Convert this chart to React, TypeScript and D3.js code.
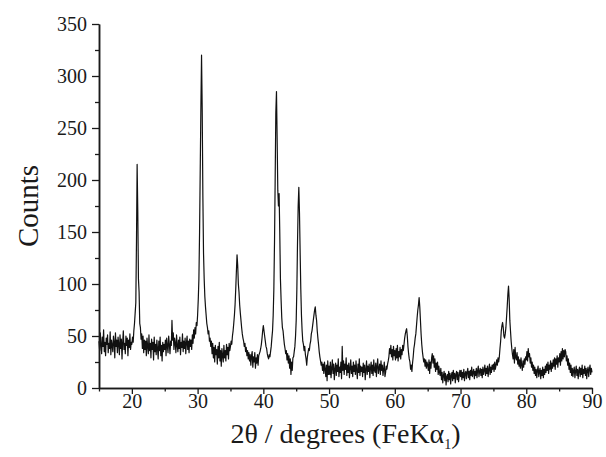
import React, { useEffect, useRef } from 'react'
import * as d3 from 'd3'

// diffractometer step, degrees 2θ
const STEP = 0.1

// counts, one array per 5 degrees (50 steps each)
const scan15 = [
  45, 36, 53, 41, 33, 49, 40, 56, 35, 44,
  31, 48, 42, 51, 34, 43, 38, 54, 32, 46,
  41, 35, 50, 44, 29, 53, 40, 46, 34, 49,
  42, 32, 51, 38, 47, 28, 44, 55, 37, 43,
  33, 50, 41, 48, 31, 46, 39, 52, 37, 44,
]
const scan20 = [
  42, 49, 44, 55, 62, 72, 82, 140, 215, 170,
  105, 92, 62, 58, 47, 52, 38, 50, 34, 46,
  37, 45, 31, 48, 40, 33, 51, 36, 43, 29,
  47, 37, 44, 27, 49, 35, 42, 32, 46, 38,
  28, 45, 36, 49, 31, 41, 26, 44, 35, 42,
]
const scan25 = [
  37, 46, 31, 48, 40, 34, 50, 42, 33, 45,
  41, 65, 46, 53, 37, 48, 43, 34, 51, 41,
  35, 46, 38, 49, 32, 44, 39, 52, 35, 45,
  38, 48, 33, 43, 50, 37, 45, 34, 47, 40,
  46, 37, 51, 43, 56, 48, 58, 52, 63, 60,
]
const scan30 = [
  70, 85, 105, 150, 210, 270, 320, 268, 185, 130,
  105, 88, 78, 70, 62, 58, 52, 55, 45, 48,
  40, 45, 33, 43, 29, 39, 25, 41, 32, 37,
  23, 40, 29, 44, 26, 36, 21, 38, 31, 25,
  41, 29, 36, 26, 42, 32, 39, 28, 43, 36,
]
const scan35 = [
  40, 45, 42, 50, 55, 62, 70, 80, 95, 112,
  128, 118, 100, 92, 80, 72, 65, 58, 52, 48,
  45, 40, 43, 35, 39, 31, 36, 28, 34, 26,
  32, 22, 31, 35, 20, 30, 25, 34, 19, 29,
  24, 32, 22, 31, 33, 35, 38, 42, 48, 55,
]
const scan40 = [
  60, 55, 50, 45, 40, 38, 33, 30, 28, 32,
  30, 35, 40, 48, 55, 70, 95, 140, 200, 265,
  285, 240, 190, 175, 187, 150, 105, 85, 68, 58,
  55, 48, 42, 38, 33, 36, 27, 33, 24, 31,
  19, 28, 13, 25, 17, 29, 30, 35, 40, 50,
]
const scan45 = [
  65, 95, 140, 175, 193, 168, 130, 95, 70, 55,
  45, 42, 36, 40, 32, 28, 22, 30, 34, 38,
  36, 42, 45, 52, 55, 60, 65, 70, 75, 78,
  70, 65, 55, 48, 42, 35, 30, 26, 22, 25,
  17, 23, 14, 25, 18, 11, 22, 7, 26, 13,
]
const scan50 = [
  21, 13, 25, 10, 19, 27, 14, 23, 8, 18,
  24, 12, 22, 16, 28, 11, 20, 15, 25, 9,
  40, 17, 26, 13, 23, 18, 29, 12, 22, 15,
  24, 10, 19, 27, 14, 21, 11, 25, 16, 22,
  13, 26, 17, 9, 23, 15, 28, 12, 21, 16,
]
const scan55 = [
  20, 11, 24, 15, 22, 8, 18, 26, 13, 21,
  16, 23, 10, 19, 25, 14, 22, 12, 27, 17,
  15, 24, 11, 21, 28, 14, 19, 23, 13, 26,
  17, 22, 12, 18, 25, 11, 15, 21, 18, 23,
  26, 30, 38, 33, 41, 30, 37, 27, 40, 31,
]
const scan60 = [
  36, 27, 38, 29, 41, 26, 35, 30, 39, 28,
  37, 32, 41, 36, 42, 48, 52, 55, 57, 50,
  40, 33, 28, 25, 18, 22, 16, 24, 30, 38,
  42, 48, 52, 60, 68, 75, 80, 87, 78, 65,
  52, 42, 35, 30, 25, 28, 21, 27, 19, 25,
]
const scan65 = [
  22, 17, 27, 14, 25, 19, 29, 33, 24, 31,
  20, 28, 16, 24, 18, 25, 13, 21, 15, 12,
  19, 8, 15, 5, 12, 16, 7, 14, 3, 11,
  13, 6, 16, 8, 14, 4, 12, 15, 7, 17,
  9, 14, 5, 13, 16, 8, 15, 6, 12, 17,
]
const scan70 = [
  11, 17, 8, 15, 10, 18, 7, 14, 16, 9,
  15, 19, 10, 16, 8, 17, 12, 20, 11, 15,
  18, 9, 16, 12, 19, 10, 17, 21, 11, 16,
  19, 12, 18, 10, 20, 13, 17, 22, 12, 19,
  14, 21, 11, 18, 23, 13, 20, 15, 22, 18,
]
const scan75 = [
  23, 16, 25, 18, 22, 27, 22, 29, 25, 30,
  38, 45, 55, 60, 63, 58, 50, 48, 52, 58,
  68, 78, 90, 98, 85, 65, 55, 45, 38, 32,
  28, 37, 24, 39, 29, 27, 34, 23, 30, 21,
  27, 19, 29, 22, 17, 26, 20, 28, 23, 30,
]
const scan80 = [
  27, 35, 26, 38, 30, 33, 24, 29, 20, 25,
  17, 22, 14, 20, 12, 18, 10, 17, 21, 11,
  16, 19, 9, 17, 12, 20, 10, 18, 13, 21,
  15, 23, 17, 25, 14, 22, 18, 26, 16, 24,
  19, 27, 21, 29, 18, 28, 23, 31, 20, 29,
]
const scan85 = [
  25, 33, 22, 35, 26, 38, 28, 36, 30, 37,
  35, 26, 31, 22, 28, 18, 24, 15, 22, 12,
  19, 11, 17, 20, 10, 16, 21, 12, 18, 9,
  17, 20, 11, 19, 13, 22, 10, 18, 14, 21,
  12, 19, 9, 17, 20, 11, 18, 22, 13, 19,
]
const scan90 = [15]

const segments: [number, number[]][] = [
  [15, scan15], [20, scan20], [25, scan25], [30, scan30], [35, scan35],
  [40, scan40], [45, scan45], [50, scan50], [55, scan55], [60, scan60],
  [65, scan65], [70, scan70], [75, scan75], [80, scan80], [85, scan85],
  [90, scan90],
]

const xTicks = [20, 30, 40, 50, 60, 70, 80, 90]
const xMinor = [15, 25, 35, 45, 55, 65, 75, 85]
const yTicks = [0, 50, 100, 150, 200, 250, 300, 350]
const yMinor = [25, 75, 125, 175, 225, 275, 325]

const FONT = '"Liberation Serif", "Times New Roman", serif'

const App = () => {
  const chartRef = useRef<SVGSVGElement>(null)

  useEffect(() => {
    const W = 606
    const H = 457
    const margin = { top: 24, right: 14, bottom: 69, left: 99 }
    const width = W - margin.left - margin.right
    const height = H - margin.top - margin.bottom

    const points: [number, number][] = []
    segments.forEach(([start, vals]) => {
      vals.forEach((v, i) => points.push([+(start + i * STEP).toFixed(1), v]))
    })

    const svg = d3.select(chartRef.current)
    svg.selectAll('*').remove()
    const g = svg.append('g').attr('transform', `translate(${margin.left},${margin.top})`)

    const x = d3.scaleLinear().domain([15, 90]).range([0, width])
    const y = d3.scaleLinear().domain([0, 350]).range([height, 0])

    const line = d3
      .line<[number, number]>()
      .x((d) => x(d[0]))
      .y((d) => y(d[1]))

    g.append('path')
      .datum(points)
      .attr('fill', 'none')
      .attr('stroke', '#111')
      .attr('stroke-width', 1.2)
      .attr('stroke-linejoin', 'round')
      .attr('d', line)

    // minor ticks first, then labelled axes on top
    g.append('g')
      .attr('transform', `translate(0,${height})`)
      .call(d3.axisBottom(x).tickValues(xMinor).tickSize(3.5).tickSizeOuter(0).tickFormat(() => ''))
    g.append('g')
      .call(d3.axisLeft(y).tickValues(yMinor).tickSize(4).tickSizeOuter(0).tickFormat(() => ''))

    const xAxis = g
      .append('g')
      .attr('transform', `translate(0,${height})`)
      .call(d3.axisBottom(x).tickValues(xTicks).tickSize(6).tickPadding(0).tickSizeOuter(0))
    const yAxis = g
      .append('g')
      .call(d3.axisLeft(y).tickValues(yTicks).tickSize(7).tickPadding(5).tickSizeOuter(0))

    for (const ax of [xAxis, yAxis]) {
      ax.attr('font-family', FONT).attr('font-size', 20)
      ax.selectAll('text').attr('fill', '#1a1a1a')
    }
    g.selectAll('.domain').attr('stroke', '#1a1a1a').attr('stroke-width', 1.5)
    g.selectAll('.tick line').attr('stroke', '#1a1a1a').attr('stroke-width', 1.3)

    // axis titles
    const xTitle = svg
      .append('text')
      .attr('x', margin.left + width / 2)
      .attr('y', 443)
      .attr('text-anchor', 'middle')
      .attr('font-family', FONT)
      .attr('font-size', 28)
      .attr('fill', '#1a1a1a')
    xTitle.append('tspan').text('2θ / degrees (FeKα')
    xTitle.append('tspan').attr('font-size', 14).attr('dy', 6).text('1')
    xTitle.append('tspan').attr('dy', -6).text(')')

    svg
      .append('text')
      .attr('transform', `translate(38,${margin.top + height / 2}) rotate(-90)`)
      .attr('text-anchor', 'middle')
      .attr('font-family', FONT)
      .attr('font-size', 29)
      .attr('fill', '#1a1a1a')
      .text('Counts')
  }, [])

  return (
    <svg
      ref={chartRef}
      width={606}
      height={457}
      style={{ position: 'absolute', left: 0, top: 0, background: '#fff' }}
    ></svg>
  )
}

export default App
